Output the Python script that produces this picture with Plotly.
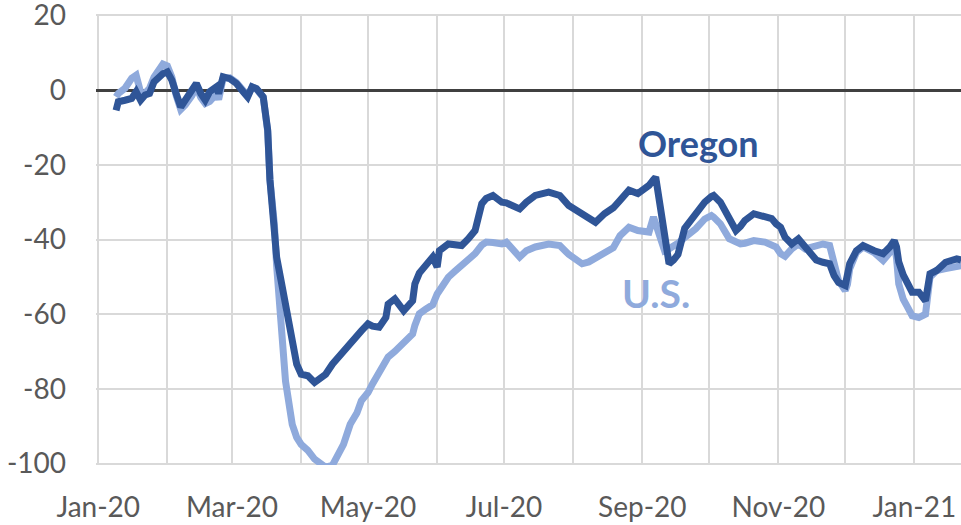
import plotly.graph_objects as go

dates = [
    "2020-01-09", "2020-01-10", "2020-01-13", "2020-01-16", "2020-01-18", "2020-01-20",
    "2020-01-22", "2020-01-24", "2020-01-26", "2020-01-28", "2020-01-30", "2020-02-01",
    "2020-02-03", "2020-02-05", "2020-02-07", "2020-02-09", "2020-02-12", "2020-02-14",
    "2020-02-16", "2020-02-18", "2020-02-20", "2020-02-23", "2020-02-24", "2020-02-26",
    "2020-02-29", "2020-03-03", "2020-03-06", "2020-03-08", "2020-03-10", "2020-03-12",
    "2020-03-15", "2020-03-16", "2020-03-17", "2020-03-18", "2020-03-20", "2020-03-21",
    "2020-03-23", "2020-03-25", "2020-03-28", "2020-03-30", "2020-04-01", "2020-04-04",
    "2020-04-07", "2020-04-10", "2020-04-12", "2020-04-15", "2020-04-17", "2020-04-20",
    "2020-04-23", "2020-04-26", "2020-04-28", "2020-05-01", "2020-05-03", "2020-05-06",
    "2020-05-09", "2020-05-10", "2020-05-13", "2020-05-15", "2020-05-17", "2020-05-21",
    "2020-05-22", "2020-05-24", "2020-05-27", "2020-05-30", "2020-06-01", "2020-06-02",
    "2020-06-06", "2020-06-09", "2020-06-12", "2020-06-15", "2020-06-18", "2020-06-21",
    "2020-06-23", "2020-06-26", "2020-06-30", "2020-07-02", "2020-07-05", "2020-07-08",
    "2020-07-11", "2020-07-15", "2020-07-21", "2020-07-26", "2020-07-30", "2020-08-02",
    "2020-08-05", "2020-08-08", "2020-08-11", "2020-08-15", "2020-08-19", "2020-08-22",
    "2020-08-26", "2020-08-30", "2020-09-04", "2020-09-06", "2020-09-07", "2020-09-09",
    "2020-09-11", "2020-09-13", "2020-09-15", "2020-09-17", "2020-09-20", "2020-09-25",
    "2020-09-29", "2020-10-02", "2020-10-03", "2020-10-06", "2020-10-10", "2020-10-13",
    "2020-10-15", "2020-10-17", "2020-10-21", "2020-10-26", "2020-10-29", "2020-10-31",
    "2020-11-02", "2020-11-04", "2020-11-07", "2020-11-10", "2020-11-13", "2020-11-16",
    "2020-11-18", "2020-11-21", "2020-11-24", "2020-11-26", "2020-11-28", "2020-12-01",
    "2020-12-02", "2020-12-03", "2020-12-06", "2020-12-09", "2020-12-14", "2020-12-18",
    "2020-12-21", "2020-12-23", "2020-12-24", "2020-12-25", "2020-12-27", "2020-12-29",
    "2020-12-31", "2021-01-03", "2021-01-06", "2021-01-08", "2021-01-11", "2021-01-15",
    "2021-01-20", "2021-01-22",
]

oregon = [
    -5.4, -3.1, -2.7, -2.2, -0.4, -2.7,
    -1.3, -0.9, 2.2, 3.6, 4.4, 4.9,
    2.7, -1.0, -4.5, -2.7, 0.0, 1.8,
    -0.9, -2.7, -0.4, 0.9, -0.9, 3.6,
    3.1, 1.8, -0.4, -1.8, 0.9, 0.4,
    -1.8, -7.2, -10.7, -24.0, -35.0, -44.7,
    -51.0, -57.0, -67.0, -73.4, -76.1, -76.5,
    -78.3, -77.0, -76.1, -73.4, -72.0, -69.5,
    -67.5, -66.0, -64.5, -62.6, -63.2, -63.5,
    -60.9, -57.3, -55.9, -57.5, -59.1, -56.4,
    -51.9, -49.0, -46.5, -44.7, -47.4, -43.0,
    -41.2, -41.5, -41.6, -39.8, -37.6, -30.4,
    -29.0, -28.2, -30.0, -30.2, -31.0, -31.8,
    -30.0, -28.2, -27.3, -28.2, -30.9, -32.0,
    -33.1, -34.5, -35.4, -33.1, -31.5, -29.5,
    -26.8, -27.7, -25.5, -24.0, -23.3, -31.0,
    -40.0, -46.5, -45.5, -44.0, -37.0, -33.1,
    -30.0, -28.5, -28.2, -30.0, -34.5, -37.6,
    -36.5, -34.9, -33.1, -34.0, -34.4, -35.8,
    -36.7, -39.4, -41.2, -39.8, -42.0, -44.7,
    -45.5, -46.1, -46.5, -49.7, -51.5, -52.3,
    -50.0, -46.5, -43.0, -41.6, -43.0, -43.8,
    -42.0, -40.3, -42.0, -46.0, -49.5, -51.9,
    -54.1, -54.1, -56.4, -49.2, -48.3, -46.1,
    -45.2, -45.5,
]

us = [
    -1.8, -0.9, 0.5, 3.2, 4.0, -0.5,
    -0.8, 0.5, 3.5, 5.5, 7.0, 6.5,
    3.5, -1.5, -5.2, -4.0, -1.5, 1.0,
    -2.0, -3.6, -3.0, -1.0, -2.5, 3.2,
    3.3, 2.0, -0.5, -1.5, 0.8, 0.3,
    -2.0, -7.0, -11.0, -24.0, -36.0, -47.0,
    -64.0, -78.0, -89.5, -93.0, -94.9, -96.5,
    -98.8, -100.5, -101.0, -100.5, -98.0, -94.9,
    -89.5, -86.5, -83.2, -81.0, -78.7, -75.5,
    -72.5, -71.5, -70.0, -68.9, -67.5, -65.3,
    -63.0, -59.9, -58.6, -57.5, -54.6, -53.7,
    -50.1, -48.5, -47.0, -45.5, -43.8, -41.5,
    -40.7, -40.8, -41.2, -40.7, -42.5, -44.7,
    -43.0, -42.0, -41.2, -41.6, -44.0, -45.5,
    -46.5, -46.0, -45.0, -43.5, -42.2, -39.0,
    -36.7, -37.6, -38.0, -34.0, -36.0, -39.4,
    -43.0, -42.5, -42.0, -41.0, -39.5, -37.1,
    -34.5, -33.6, -34.0, -35.8, -39.8, -40.5,
    -41.2, -41.0, -40.3, -40.7, -41.2, -42.0,
    -43.8, -44.5, -42.5, -41.2, -42.5, -42.0,
    -41.5, -41.2, -41.6, -46.5, -51.0, -53.7,
    -52.0, -47.9, -43.5, -42.0, -43.5, -45.6,
    -43.5, -41.2, -45.0, -51.9, -56.0, -58.2,
    -60.4, -60.9, -60.0, -50.1, -48.3, -47.8,
    -47.4, -47.0,
]

y_ticks = [20, 0, -20, -40, -60, -80, -100]
y_tick_text = ["20", "0", "-20", "-40", "-60", "-80", "-100"]
x_tick_vals = ["2020-01-01", "2020-03-01", "2020-05-01", "2020-07-01",
               "2020-09-01", "2020-11-01", "2021-01-01"]
x_tick_text = ["Jan-20", "Mar-20", "May-20", "Jul-20", "Sep-20", "Nov-20", "Jan-21"]

OREGON_C = "#2F5597"
US_C = "#8FAADC"
GRID_C = "#D9D9D9"
TXT_C = "#595959"
FONT = "Lato, Open Sans, sans-serif"

fig = go.Figure()
fig.add_trace(go.Scatter(x=dates, y=us, mode="lines", name="U.S.",
                         line=dict(color=US_C, width=7), showlegend=False))
fig.add_trace(go.Scatter(x=dates, y=oregon, mode="lines", name="Oregon",
                         line=dict(color=OREGON_C, width=7), showlegend=False))

fig.add_annotation(x="2020-09-26", y=-14.2, text="<b>Oregon</b>", showarrow=False,
                   font=dict(family=FONT, size=36, color=OREGON_C))
fig.add_annotation(x="2020-09-07", y=-54.2, text="<b>U.S.</b>", showarrow=False,
                   font=dict(family=FONT, size=39, color=US_C))

fig.update_layout(
    width=961, height=525,
    margin=dict(l=96, r=0, t=14, b=60, autoexpand=False),
    paper_bgcolor="white", plot_bgcolor="white",
    font=dict(family=FONT, color=TXT_C, size=28),
)
fig.update_xaxes(
    type="date",
    range=["2019-12-31", "2021-01-21 22:00"],
    tickvals=x_tick_vals, ticktext=x_tick_text,
    showgrid=True, gridcolor=GRID_C, gridwidth=2,
    minor=dict(dtick="M1", tick0="2020-01-01", showgrid=True, gridcolor=GRID_C, gridwidth=2),
    showline=False, zeroline=False, ticks="",
    tickfont=dict(family=FONT, size=28, color=TXT_C),
    ticklabelstandoff=23, automargin=False, ticklabeloverflow="allow",
)
fig.update_yaxes(
    range=[-100.4, 20.4],
    tickvals=y_ticks, ticktext=y_tick_text,
    showgrid=True, gridcolor=GRID_C, gridwidth=2,
    zeroline=True, zerolinecolor="#404040", zerolinewidth=3,
    showline=False, ticks="",
    tickfont=dict(family=FONT, size=28, color=TXT_C),
    ticklabelstandoff=29, automargin=False, ticklabeloverflow="allow",
)

fig.write_html("out.html", config={"displayModeBar": False},
               post_script="document.body.style.margin='0';")
